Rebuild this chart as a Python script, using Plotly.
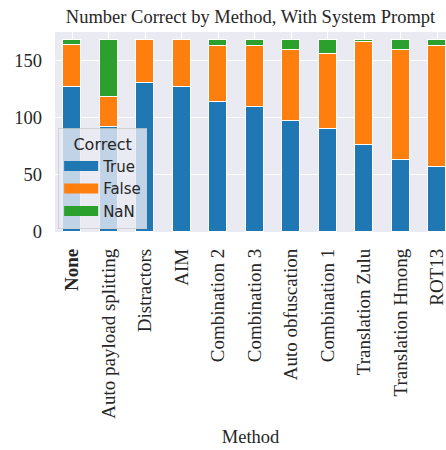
import plotly.graph_objects as go

# Categories (x axis) and stacked counts
methods = [
    "None",
    "Auto payload splitting",
    "Distractors",
    "AIM",
    "Combination 2",
    "Combination 3",
    "Auto obfuscation",
    "Combination 1",
    "Translation Zulu",
    "Translation Hmong",
    "ROT13",
]
tick_labels = ["<b>None</b>"] + methods[1:]

true_counts = [127, 92, 130, 127, 114, 109, 97, 90, 76, 63, 57]
false_counts = [37, 26, 38, 41, 49, 54, 62, 66, 90, 96, 106]
nan_counts = [4, 50, 0, 0, 5, 5, 9, 12, 2, 9, 5]

series = [
    ("True", true_counts, "#1f77b4"),
    ("False", false_counts, "#ff7f0e"),
    ("NaN", nan_counts, "#2ca02c"),
]

serif = "Liberation Serif, Times New Roman, serif"
sans = "DejaVu Sans, sans-serif"
text_col = "#262626"

fig = go.Figure()
idx = list(range(len(methods)))
for name, vals, color in series:
    fig.add_trace(
        go.Bar(
            x=idx,
            y=vals,
            name=name,
            width=0.5,
            marker=dict(color=color, line=dict(color="white", width=1.5)),
            showlegend=False,
        )
    )
    # wide rectangle legend entries like matplotlib's patches
    fig.add_trace(
        go.Scatter(
            x=[None],
            y=[None],
            mode="lines",
            name=name,
            line=dict(color=color, width=11),
        )
    )

fig.update_layout(
    width=446,
    height=450,
    barmode="stack",
    bargap=0,
    margin=dict(l=55, r=0, t=32, b=218),
    paper_bgcolor="white",
    plot_bgcolor="#EAEAF2",
    title=dict(
        text="Number Correct by Method, With System Prompt",
        font=dict(family=serif, size=18.5, color=text_col),
        x=0.5,
        xanchor="center",
        xref="paper",
        y=1 - 16.5 / 450,
        yanchor="middle",
        yref="container",
    ),
    legend=dict(
        title=dict(text="Correct", font=dict(family=sans, size=16, color=text_col), side="top center"),
        font=dict(family=sans, size=15, color=text_col),
        traceorder="normal",
        x=0.008,
        y=0.015,
        xanchor="left",
        yanchor="bottom",
        bgcolor="rgba(234,234,242,0.8)",
        bordercolor="rgba(204,204,204,0.8)",
        borderwidth=1,
        itemwidth=34,
        tracegroupgap=0,
    ),
    showlegend=True,
)

fig.update_xaxes(
    range=[-0.47, 10.24],
    tickmode="array",
    tickvals=idx,
    ticktext=tick_labels,
    tickangle=-90,
    tickfont=dict(family=serif, size=19, color=text_col),
    ticklabeloverflow="allow",
    showgrid=True,
    gridcolor="white",
    gridwidth=1.2,
    zeroline=False,
    ticklabelstandoff=12,
    title=dict(text="Method", font=dict(family=serif, size=18.5, color=text_col), standoff=12),
    automargin=False,
)
fig.update_yaxes(
    range=[0, 175],
    tickvals=[0, 50, 100, 150],
    tickfont=dict(family=serif, size=18.5, color=text_col),
    showgrid=True,
    gridcolor="white",
    gridwidth=1.2,
    zeroline=False,
    ticklabelstandoff=12,
    automargin=False,
)

# drop the default page margin so the figure fills the window exactly
fig.write_html(
    "out.html",
    config={"displayModeBar": False},
    post_script="document.body.style.margin='0';document.body.style.overflow='hidden';",
)
